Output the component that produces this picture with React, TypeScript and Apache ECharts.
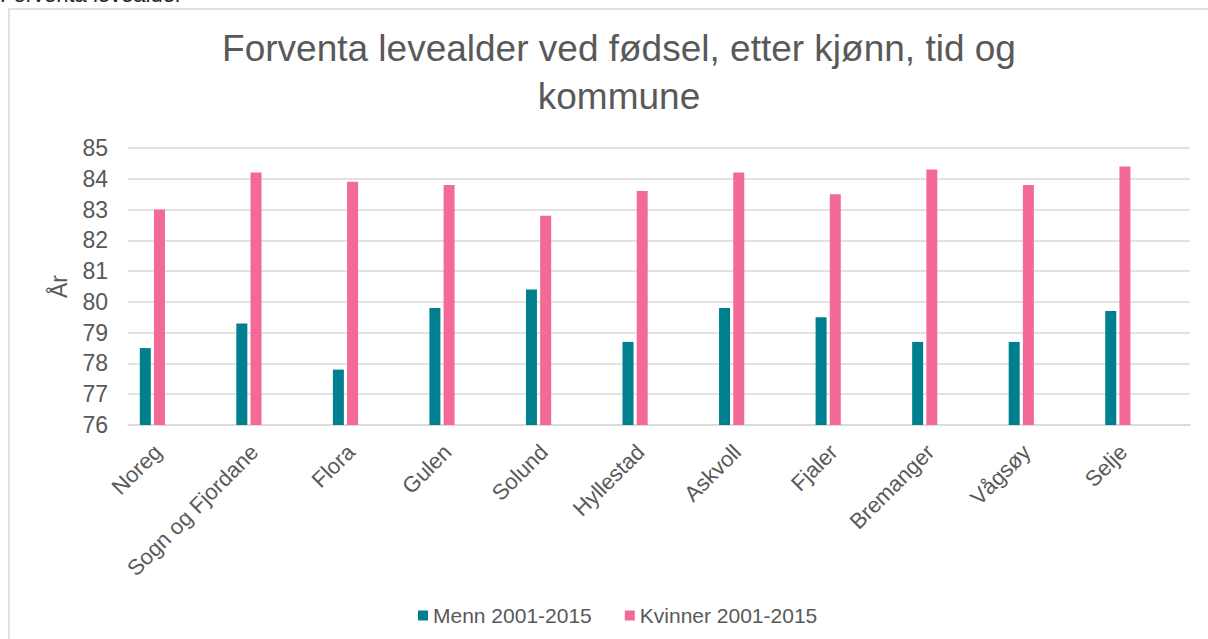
import React, { useEffect, useRef } from "react";
import * as echarts from "echarts";

const categories = ["Noreg", "Sogn og Fjordane", "Flora", "Gulen", "Solund", "Hyllestad", "Askvoll", "Fjaler", "Bremanger", "Vågsøy", "Selje"];
const menn = [78.5, 79.3, 77.8, 79.8, 80.4, 78.7, 79.8, 79.5, 78.7, 78.7, 79.7];
const kvinner = [83.0, 84.2, 83.9, 83.8, 82.8, 83.6, 84.2, 83.5, 84.3, 83.8, 84.4];
const seriesNames = ["Menn 2001-2015", "Kvinner 2001-2015"];
const titleText = "Forventa levealder ved fødsel, etter kjønn, tid og\nkommune";
const topText = "Forventa levealder";
const yName = "År";

const FONT = "'Liberation Sans', Arial, sans-serif";
const GREY = "#595959";

export default function App() {
  const ref = useRef<HTMLDivElement>(null);
  useEffect(() => {
    document.body.style.margin = "0";
    if (!ref.current) return;
    const chart = echarts.init(ref.current, undefined, { renderer: "svg" });
    chart.setOption({
      animation: false,
      backgroundColor: "#ffffff",
      textStyle: { fontFamily: FONT },
      title: {
        text: titleText,
        left: 614,
        top: 19,
        textAlign: "center",
        textStyle: { fontFamily: FONT, fontSize: 37, fontWeight: "normal", color: GREY, lineHeight: 48 },
      },
      graphic: [
        {
          type: "rect",
          shape: { x: 9, y: 9, width: 1240, height: 680 },
          style: { fill: "none", stroke: "#d9d9d9", lineWidth: 1.5 },
          z: -10,
        },
        {
          type: "text",
          x: 0,
          y: 5,
          style: { text: topText, font: `22px ${FONT}`, fill: "#262626", textVerticalAlign: "bottom" },
        },
      ],
      legend: {
        data: seriesNames,
        left: 413,
        top: 600,
        itemWidth: 10,
        itemHeight: 10,
        itemGap: 33,
        textStyle: { fontFamily: FONT, fontSize: 21, color: GREY },
        icon: "rect",
      },
      grid: { left: 128, right: 18, top: 148, bottom: 214 },
      xAxis: {
        type: "category",
        data: categories,
        axisLine: { lineStyle: { color: "#d9d9d9", width: 1.5 } },
        axisTick: { show: false },
        axisLabel: {
          rotate: 45,
          interval: 0,
          margin: 5,
          fontSize: 22,
          color: GREY,
          fontFamily: FONT,
          padding: [0, 26, 0, 0],
        },
      },
      yAxis: {
        type: "value",
        min: 76,
        max: 85,
        interval: 1,
        name: yName,
        nameLocation: "middle",
        nameRotate: 90,
        nameGap: 58,
        nameTextStyle: { fontSize: 23, color: GREY, fontFamily: FONT },
        axisLine: { show: false },
        axisTick: { show: false },
        axisLabel: { fontSize: 23, color: GREY, margin: 20, fontFamily: FONT },
        splitLine: { lineStyle: { color: "#d9d9d9", width: 1.5 } },
      },
      series: [
        {
          name: seriesNames[0],
          type: "bar",
          data: menn,
          barWidth: 11,
          barGap: "29%",
          itemStyle: { color: "#00808F" },
        },
        {
          name: seriesNames[1],
          type: "bar",
          data: kvinner,
          barWidth: 11,
          barGap: "29%",
          itemStyle: { color: "#F46A97" },
        },
        {
          name: "spacer",
          type: "bar",
          data: [],
          barWidth: 44.6,
          barGap: "29%",
        },
      ],
    });
    return () => chart.dispose();
  }, []);
  return <div ref={ref} style={{ width: 1208, height: 639 }} />;
}
